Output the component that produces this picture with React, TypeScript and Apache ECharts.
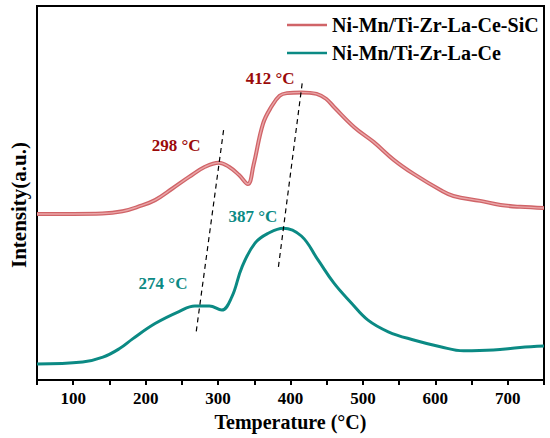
import React, { useEffect, useRef } from "react";
import * as echarts from "echarts";

const sicTemps = [50, 100, 140, 168, 189, 213, 237, 260, 282, 301, 315, 329, 341, 349, 362, 374, 385, 395, 415, 436, 449, 460, 488, 515, 543, 570, 607, 625, 662, 690, 717, 750];
const sicValues = [44.4, 44.4, 44.5, 45.1, 46.3, 48.1, 51.2, 54.3, 57.0, 58.1, 57.0, 54.8, 52.4, 57.5, 68.5, 73.2, 76.0, 76.7, 76.9, 76.5, 75.2, 73.0, 67.6, 63.6, 58.8, 55.1, 50.8, 49.2, 47.9, 46.8, 46.3, 46.0];

const ceTemps = [50, 113, 141, 164, 182, 213, 246, 268, 288, 305, 319, 333, 351, 370, 390, 415, 438, 460, 484, 507, 535, 570, 607, 639, 680, 717, 750];
const ceValues = [4.3, 4.8, 6.1, 8.4, 11.0, 15.1, 18.3, 19.8, 19.8, 18.7, 22.2, 30.2, 36.6, 39.3, 40.6, 38.5, 32.1, 25.9, 20.6, 16.0, 12.9, 10.7, 8.9, 7.8, 8.0, 8.7, 9.1];

const guide1 = [[307.6, 66.8], [269.6, 12.6]];
const guide2 = [[416.1, 79.3], [383.1, 29.9]];

const sicNotes = ["298 °C", "412 °C"];
const sicNoteTemps = [242, 372];
const sicNoteValues = [62.8, 80.5];
const ceNotes = ["387 °C", "274 °C"];
const ceNoteTemps = [348, 224];
const ceNoteValues = [43.7, 25.9];

const xTicks = [100, 200, 300, 400, 500, 600, 700];

const seriesNames = ["Ni-Mn/Ti-Zr-La-Ce-SiC", "Ni-Mn/Ti-Zr-La-Ce"];

const FONT = "'Liberation Serif', 'Times New Roman', serif";
const RED = "#d06468";
const RED_IN = "#eaa6a8";
const TEAL = "#0b8a84";
const DARK_RED = "#9b0a0a";

export default function App() {
  const ref = useRef<HTMLDivElement>(null);
  useEffect(() => {
    document.body.style.margin = "0";
    if (!ref.current) return;
    const chart = echarts.init(ref.current, undefined, { renderer: "svg" });
    const zip = (a: number[], b: number[]) => a.map((v, i) => [v, b[i]]);
    const noteLabel = (color: string) => ({
      show: true,
      position: "inside",
      formatter: (p: any) => p.name,
      fontFamily: FONT,
      fontWeight: "bold",
      fontSize: 17,
      color,
      opacity: 1,
    });
    chart.setOption({
      animation: false,
      backgroundColor: "#fff",
      grid: { left: 34, right: 6, top: 6, bottom: 58, show: true, borderColor: "#000", borderWidth: 2 },
      legend: {
        data: [
          { name: seriesNames[0], icon: "rect", itemStyle: { color: RED } },
          { name: seriesNames[1], icon: "rect", itemStyle: { color: TEAL } },
        ],
        orient: "vertical",
        left: 282,
        top: 9,
        itemWidth: 40,
        itemHeight: 2.5,
        itemGap: 6,
        textStyle: { fontFamily: FONT, fontWeight: "bold", fontSize: 20, color: "#000", lineHeight: 22 },
      },
      xAxis: {
        type: "value",
        min: 50,
        max: 750,
        interval: 50,
        name: "Temperature (°C)",
        nameLocation: "middle",
        nameGap: 27,
        nameTextStyle: { fontFamily: FONT, fontWeight: "bold", fontSize: 20, color: "#000" },
        axisLine: { show: true, lineStyle: { color: "#000", width: 2 } },
        axisTick: { show: true, inside: false, length: 5, lineStyle: { color: "#000", width: 2 } },
        axisLabel: {
          fontFamily: FONT,
          fontWeight: "bold",
          fontSize: 17,
          color: "#000",
          margin: 10,
          formatter: (v: number) => (xTicks.includes(v) ? String(v) : ""),
        },
        splitLine: { show: false },
      },
      yAxis: {
        type: "value",
        min: 0,
        max: 100,
        name: "Intensity(a.u.)",
        nameLocation: "middle",
        nameGap: 8,
        nameTextStyle: { fontFamily: FONT, fontWeight: "bold", fontSize: 21, color: "#000", padding: [0, 24, 0, 0] },
        axisLine: { show: true, lineStyle: { color: "#000", width: 2 } },
        axisTick: { show: false },
        axisLabel: { show: false },
        splitLine: { show: false },
      },
      series: [
        {
          name: seriesNames[0],
          type: "line",
          data: zip(sicTemps, sicValues),
          smooth: 0.4,
          symbol: "none",
          lineStyle: { color: RED, width: 4 },
          itemStyle: { color: RED },
          z: 3,
        },
        {
          name: seriesNames[0] + "-inner",
          type: "line",
          data: zip(sicTemps, sicValues),
          smooth: 0.4,
          symbol: "none",
          silent: true,
          lineStyle: { color: RED_IN, width: 1.4 },
          z: 4,
        },
        {
          name: seriesNames[1],
          type: "line",
          data: zip(ceTemps, ceValues),
          smooth: 0.4,
          symbol: "none",
          lineStyle: { color: TEAL, width: 3 },
          itemStyle: { color: TEAL },
          z: 3,
        },
        {
          name: "guide1",
          type: "line",
          data: guide1,
          symbol: "none",
          silent: true,
          lineStyle: { color: "#000", width: 1.2, type: [5, 4] },
          z: 5,
        },
        {
          name: "guide2",
          type: "line",
          data: guide2,
          symbol: "none",
          silent: true,
          lineStyle: { color: "#000", width: 1.2, type: [5, 4] },
          z: 5,
        },
        {
          name: "sicNotes",
          type: "scatter",
          symbolSize: 0,
          silent: true,
          itemStyle: { opacity: 1 },
          data: sicNotes.map((t, i) => ({ value: [sicNoteTemps[i], sicNoteValues[i]], name: t })),
          label: noteLabel(DARK_RED),
        },
        {
          name: "ceNotes",
          type: "scatter",
          symbolSize: 0,
          silent: true,
          itemStyle: { opacity: 1 },
          data: ceNotes.map((t, i) => ({ value: [ceNoteTemps[i], ceNoteValues[i]], name: t })),
          label: noteLabel(TEAL),
        },
      ],
    });
    return () => chart.dispose();
  }, []);
  return <div ref={ref} style={{ width: 550, height: 438, position: "absolute", left: 0, top: 0 }} />;
}
